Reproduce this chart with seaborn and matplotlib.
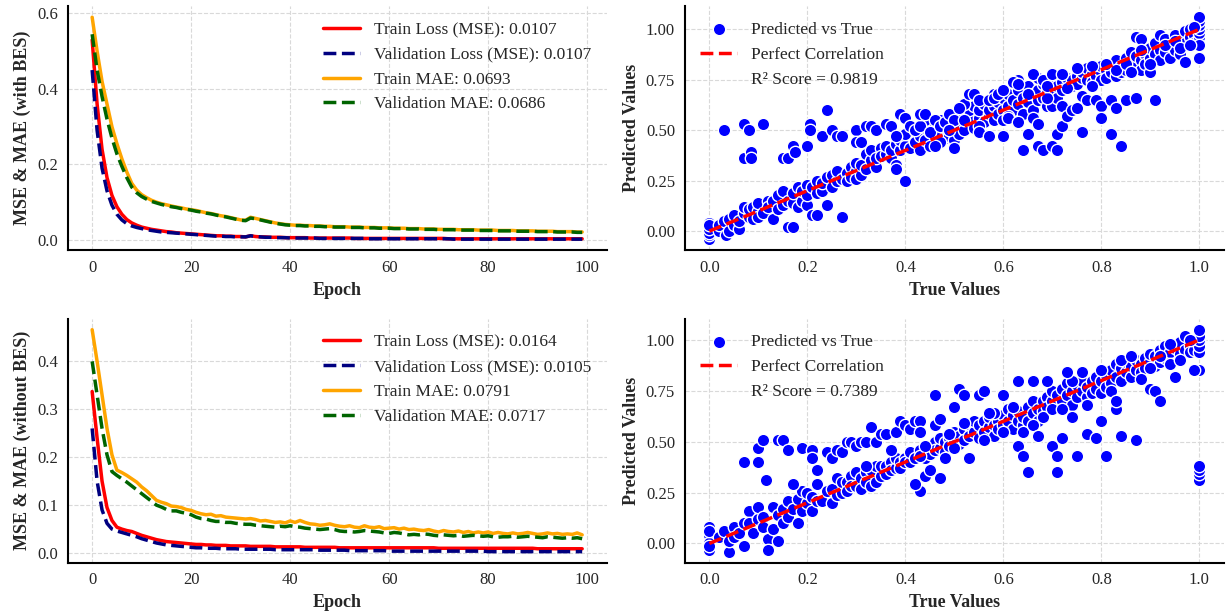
import numpy as np
import matplotlib
matplotlib.use("Agg")
import matplotlib.pyplot as plt
import seaborn as sns

# ---- training history, model with BES ----
train_loss_bes = [
    0.530, 0.360, 0.240, 0.165, 0.118, 0.088, 0.068, 0.054, 0.045, 0.039,
    0.034, 0.031, 0.028, 0.026, 0.024, 0.022, 0.021, 0.019, 0.018, 0.017,
    0.016, 0.015, 0.014, 0.013, 0.012, 0.011, 0.011, 0.010, 0.010, 0.009,
    0.009, 0.008, 0.011, 0.009, 0.008, 0.008, 0.007, 0.007, 0.007, 0.006,
    0.006, 0.006, 0.006, 0.006, 0.005, 0.005, 0.005, 0.005, 0.005, 0.005,
    0.005, 0.005, 0.005, 0.004, 0.004, 0.004, 0.004, 0.004, 0.004, 0.004,
    0.004, 0.004, 0.004, 0.004, 0.004, 0.004, 0.004, 0.004, 0.004, 0.004,
    0.004, 0.004, 0.003, 0.003, 0.003, 0.003, 0.003, 0.003, 0.003, 0.003,
    0.003, 0.003, 0.003, 0.003, 0.003, 0.003, 0.003, 0.003, 0.003, 0.003,
    0.003, 0.003, 0.003, 0.003, 0.003, 0.003, 0.003, 0.003, 0.003, 0.003,
]
val_loss_bes = [
    0.450, 0.290, 0.190, 0.130, 0.092, 0.068, 0.053, 0.043, 0.037, 0.033,
    0.030, 0.027, 0.025, 0.023, 0.021, 0.020, 0.019, 0.018, 0.017, 0.016,
    0.015, 0.014, 0.013, 0.012, 0.011, 0.010, 0.010, 0.009, 0.009, 0.008,
    0.008, 0.008, 0.011, 0.009, 0.008, 0.007, 0.007, 0.006, 0.006, 0.006,
    0.005, 0.005, 0.005, 0.005, 0.005, 0.005, 0.004, 0.004, 0.004, 0.004,
    0.004, 0.004, 0.004, 0.004, 0.004, 0.004, 0.003, 0.003, 0.003, 0.003,
    0.003, 0.003, 0.003, 0.003, 0.003, 0.003, 0.003, 0.003, 0.003, 0.003,
    0.003, 0.003, 0.003, 0.002, 0.002, 0.002, 0.002, 0.002, 0.002, 0.002,
    0.002, 0.002, 0.002, 0.002, 0.002, 0.002, 0.002, 0.002, 0.002, 0.002,
    0.002, 0.002, 0.002, 0.002, 0.002, 0.002, 0.002, 0.002, 0.002, 0.002,
]
train_mae_bes = [
    0.590, 0.500, 0.420, 0.360, 0.300, 0.255, 0.215, 0.180, 0.150, 0.132,
    0.120, 0.112, 0.105, 0.100, 0.096, 0.093, 0.090, 0.087, 0.085, 0.082,
    0.080, 0.078, 0.075, 0.072, 0.070, 0.067, 0.064, 0.062, 0.059, 0.056,
    0.053, 0.052, 0.060, 0.057, 0.054, 0.051, 0.048, 0.045, 0.043, 0.041,
    0.040, 0.039, 0.039, 0.038, 0.038, 0.037, 0.037, 0.036, 0.036, 0.035,
    0.035, 0.035, 0.034, 0.034, 0.034, 0.033, 0.033, 0.033, 0.032, 0.032,
    0.032, 0.031, 0.031, 0.031, 0.030, 0.030, 0.030, 0.029, 0.029, 0.029,
    0.028, 0.028, 0.028, 0.028, 0.027, 0.027, 0.027, 0.027, 0.026, 0.026,
    0.026, 0.026, 0.025, 0.025, 0.025, 0.025, 0.024, 0.024, 0.024, 0.024,
    0.023, 0.023, 0.023, 0.023, 0.022, 0.022, 0.022, 0.022, 0.021, 0.021,
]
val_mae_bes = [
    0.545, 0.450, 0.380, 0.320, 0.270, 0.228, 0.195, 0.165, 0.140, 0.125,
    0.115, 0.108, 0.102, 0.098, 0.094, 0.091, 0.088, 0.086, 0.083, 0.081,
    0.079, 0.076, 0.074, 0.071, 0.069, 0.066, 0.063, 0.061, 0.058, 0.055,
    0.052, 0.051, 0.058, 0.056, 0.053, 0.050, 0.047, 0.044, 0.042, 0.040,
    0.039, 0.038, 0.038, 0.037, 0.037, 0.036, 0.036, 0.035, 0.035, 0.034,
    0.034, 0.034, 0.033, 0.033, 0.033, 0.032, 0.032, 0.032, 0.031, 0.031,
    0.031, 0.030, 0.030, 0.030, 0.029, 0.029, 0.029, 0.028, 0.028, 0.028,
    0.027, 0.027, 0.027, 0.027, 0.026, 0.026, 0.026, 0.026, 0.025, 0.025,
    0.025, 0.025, 0.024, 0.024, 0.024, 0.024, 0.023, 0.023, 0.023, 0.023,
    0.022, 0.022, 0.022, 0.022, 0.021, 0.021, 0.021, 0.021, 0.020, 0.020,
]

# ---- training history, model without BES ----
train_loss_nobes = [
    0.337, 0.240, 0.150, 0.095, 0.068, 0.054, 0.050, 0.047, 0.045, 0.041,
    0.037, 0.034, 0.031, 0.028, 0.026, 0.024, 0.023, 0.022, 0.021, 0.020,
    0.019, 0.018, 0.018, 0.017, 0.017, 0.016, 0.016, 0.016, 0.015, 0.015,
    0.015, 0.015, 0.014, 0.014, 0.014, 0.014, 0.014, 0.013, 0.013, 0.013,
    0.013, 0.013, 0.013, 0.012, 0.012, 0.012, 0.012, 0.012, 0.012, 0.012,
    0.011, 0.011, 0.011, 0.011, 0.011, 0.011, 0.011, 0.011, 0.011, 0.011,
    0.011, 0.011, 0.011, 0.011, 0.011, 0.011, 0.011, 0.011, 0.011, 0.011,
    0.010, 0.010, 0.010, 0.010, 0.010, 0.010, 0.010, 0.010, 0.010, 0.010,
    0.010, 0.010, 0.010, 0.010, 0.010, 0.010, 0.010, 0.010, 0.010, 0.010,
    0.009, 0.009, 0.009, 0.009, 0.009, 0.009, 0.009, 0.009, 0.009, 0.009,
]
val_loss_nobes = [
    0.260, 0.150, 0.090, 0.062, 0.050, 0.046, 0.043, 0.040, 0.037, 0.034,
    0.030, 0.027, 0.024, 0.021, 0.019, 0.017, 0.016, 0.015, 0.014, 0.013,
    0.012, 0.011, 0.011, 0.010, 0.010, 0.010, 0.009, 0.009, 0.009, 0.009,
    0.008, 0.008, 0.008, 0.008, 0.008, 0.008, 0.008, 0.007, 0.007, 0.007,
    0.007, 0.007, 0.007, 0.007, 0.007, 0.007, 0.006, 0.006, 0.006, 0.006,
    0.006, 0.006, 0.005, 0.005, 0.005, 0.005, 0.005, 0.005, 0.005, 0.005,
    0.004, 0.004, 0.004, 0.004, 0.004, 0.004, 0.004, 0.004, 0.004, 0.004,
    0.004, 0.004, 0.004, 0.004, 0.004, 0.004, 0.004, 0.004, 0.004, 0.004,
    0.003, 0.003, 0.003, 0.003, 0.003, 0.003, 0.003, 0.003, 0.003, 0.003,
    0.003, 0.003, 0.003, 0.003, 0.003, 0.003, 0.003, 0.003, 0.003, 0.003,
]
train_mae_nobes = [
    0.466, 0.400, 0.330, 0.260, 0.205, 0.173, 0.168, 0.162, 0.155, 0.148,
    0.138, 0.130, 0.120, 0.110, 0.106, 0.103, 0.098, 0.097, 0.095, 0.091,
    0.089, 0.085, 0.082, 0.080, 0.081, 0.077, 0.078, 0.075, 0.074, 0.073,
    0.072, 0.071, 0.072, 0.070, 0.067, 0.068, 0.066, 0.064, 0.065, 0.063,
    0.067, 0.064, 0.068, 0.064, 0.061, 0.060, 0.058, 0.059, 0.061, 0.058,
    0.056, 0.055, 0.057, 0.054, 0.053, 0.057, 0.054, 0.053, 0.055, 0.051,
    0.052, 0.053, 0.050, 0.052, 0.049, 0.050, 0.048, 0.047, 0.049, 0.046,
    0.044, 0.047, 0.045, 0.044, 0.046, 0.043, 0.045, 0.042, 0.044, 0.042,
    0.044, 0.041, 0.043, 0.041, 0.040, 0.042, 0.040, 0.041, 0.043, 0.041,
    0.039, 0.040, 0.042, 0.040, 0.041, 0.039, 0.040, 0.039, 0.042, 0.038,
]
val_mae_nobes = [
    0.400, 0.330, 0.260, 0.205, 0.170, 0.162, 0.155, 0.148, 0.140, 0.132,
    0.124, 0.116, 0.108, 0.100, 0.096, 0.091, 0.088, 0.088, 0.085, 0.083,
    0.080, 0.075, 0.072, 0.071, 0.068, 0.066, 0.066, 0.064, 0.064, 0.062,
    0.061, 0.060, 0.060, 0.058, 0.057, 0.056, 0.055, 0.054, 0.056, 0.055,
    0.057, 0.055, 0.054, 0.052, 0.051, 0.050, 0.049, 0.050, 0.051, 0.049,
    0.046, 0.045, 0.045, 0.044, 0.045, 0.047, 0.046, 0.045, 0.044, 0.042,
    0.041, 0.043, 0.042, 0.040, 0.038, 0.039, 0.038, 0.040, 0.039, 0.037,
    0.036, 0.038, 0.037, 0.036, 0.037, 0.035, 0.036, 0.037, 0.036, 0.035,
    0.036, 0.034, 0.033, 0.034, 0.034, 0.035, 0.033, 0.034, 0.035, 0.034,
    0.033, 0.032, 0.034, 0.033, 0.032, 0.031, 0.032, 0.031, 0.032, 0.030,
]

bes_labels = ["Train Loss (MSE): 0.0107", "Validation Loss (MSE): 0.0107",
              "Train MAE: 0.0693", "Validation MAE: 0.0686"]
nobes_labels = ["Train Loss (MSE): 0.0164", "Validation Loss (MSE): 0.0105",
                "Train MAE: 0.0791", "Validation MAE: 0.0717"]

# ---- predicted vs true, model with BES (true, predicted) ----
pred_bes = [
    (0, -0.04), (0, -0.02), (0, 0.0), (0, 0.02), (0, 0.04), (0, -0.01), (0, 0.01), (0, 0.03),
    (0.02, 0.0), (0.02, 0.03), (0.03, 0.05), (0.035, -0.02), (0.04, 0.0), (0.04, 0.06),
    (0.05, 0.03), (0.05, 0.08), (0.06, 0.01), (0.06, 0.05), (0.07, 0.09), (0.07, 0.12),
    (0.08, 0.07), (0.08, 0.11), (0.09, 0.06), (0.09, 0.12), (0.1, 0.1), (0.1, 0.14), (0.1, 0.07),
    (0.11, 0.09), (0.12, 0.15), (0.12, 0.12), (0.13, 0.06), (0.13, 0.15), (0.14, 0.11),
    (0.14, 0.18), (0.15, 0.13), (0.15, 0.2), (0.16, 0.15), (0.16, 0.02), (0.17, 0.02),
    (0.17, 0.14), (0.17, 0.19), (0.18, 0.12), (0.18, 0.22), (0.19, 0.15), (0.19, 0.2),
    (0.2, 0.23), (0.2, 0.13), (0.2, 0.18), (0.21, 0.08), (0.21, 0.22), (0.22, 0.08),
    (0.22, 0.19), (0.22, 0.25), (0.23, 0.2), (0.23, 0.24), (0.24, 0.13), (0.24, 0.27),
    (0.25, 0.22), (0.25, 0.28), (0.26, 0.25), (0.26, 0.3), (0.27, 0.07), (0.27, 0.26),
    (0.28, 0.29), (0.28, 0.25), (0.29, 0.32), (0.29, 0.27), (0.3, 0.3), (0.3, 0.26), (0.3, 0.34),
    (0.31, 0.28), (0.31, 0.33), (0.32, 0.31), (0.32, 0.38), (0.33, 0.35), (0.33, 0.4),
    (0.34, 0.32), (0.34, 0.36), (0.35, 0.41), (0.35, 0.37), (0.36, 0.38), (0.36, 0.42),
    (0.37, 0.36), (0.37, 0.4), (0.38, 0.33), (0.38, 0.43), (0.38, 0.31), (0.39, 0.4),
    (0.39, 0.45), (0.4, 0.25), (0.4, 0.42), (0.4, 0.48), (0.41, 0.41), (0.42, 0.5), (0.42, 0.44),
    (0.43, 0.4), (0.43, 0.47), (0.44, 0.51), (0.44, 0.45), (0.45, 0.49), (0.46, 0.44),
    (0.46, 0.52), (0.47, 0.48), (0.47, 0.55), (0.48, 0.46), (0.48, 0.51), (0.49, 0.53),
    (0.49, 0.47), (0.5, 0.5), (0.5, 0.57), (0.5, 0.45), (0.51, 0.52), (0.51, 0.48),
    (0.52, 0.58), (0.52, 0.5), (0.53, 0.55), (0.53, 0.6), (0.54, 0.51), (0.54, 0.62),
    (0.55, 0.56), (0.55, 0.6), (0.56, 0.54), (0.56, 0.63), (0.57, 0.58), (0.57, 0.6),
    (0.58, 0.55), (0.58, 0.62), (0.59, 0.58), (0.59, 0.64), (0.6, 0.6), (0.6, 0.66), (0.6, 0.55),
    (0.61, 0.62), (0.61, 0.68), (0.62, 0.6), (0.62, 0.65), (0.63, 0.7), (0.63, 0.63),
    (0.64, 0.66), (0.64, 0.58), (0.65, 0.72), (0.65, 0.64), (0.66, 0.68), (0.66, 0.6),
    (0.67, 0.7), (0.67, 0.65), (0.68, 0.66), (0.68, 0.73), (0.69, 0.62), (0.69, 0.7),
    (0.7, 0.68), (0.7, 0.75), (0.7, 0.62), (0.71, 0.72), (0.71, 0.66), (0.72, 0.74), (0.72, 0.7),
    (0.73, 0.76), (0.74, 0.72), (0.74, 0.75), (0.75, 0.77), (0.75, 0.73), (0.76, 0.76),
    (0.76, 0.79), (0.77, 0.75), (0.77, 0.81), (0.78, 0.78), (0.78, 0.74), (0.79, 0.8),
    (0.79, 0.77), (0.8, 0.79), (0.8, 0.82), (0.8, 0.75), (0.81, 0.8), (0.81, 0.76),
    (0.82, 0.83), (0.82, 0.79), (0.83, 0.77), (0.83, 0.85), (0.84, 0.82), (0.84, 0.79),
    (0.85, 0.86), (0.85, 0.8), (0.86, 0.84), (0.86, 0.89), (0.87, 0.82), (0.87, 0.87),
    (0.87, 0.96), (0.88, 0.85), (0.88, 0.8), (0.88, 0.95), (0.89, 0.88), (0.89, 0.83),
    (0.9, 0.86), (0.9, 0.91), (0.9, 0.79), (0.91, 0.88), (0.91, 0.93), (0.92, 0.9), (0.92, 0.85),
    (0.92, 0.97), (0.93, 0.95), (0.93, 0.89), (0.94, 0.92), (0.94, 0.86), (0.95, 0.97),
    (0.95, 0.9), (0.96, 0.94), (0.96, 0.88), (0.97, 0.99), (0.97, 0.84), (0.97, 0.93),
    (0.98, 0.96), (0.98, 1.0), (0.99, 0.97), (0.99, 0.93),
    (1.0, 0.94), (1.0, 0.96), (1.0, 0.98), (1.0, 1.0), (1.0, 1.02), (1.0, 1.04), (1.0, 1.06),
    (1.0, 0.92), (1.0, 0.86),
    # denser band in the upper range
    (0.44, 0.55), (0.47, 0.44), (0.52, 0.63), (0.55, 0.52), (0.58, 0.68), (0.61, 0.57),
    (0.63, 0.75), (0.65, 0.68), (0.67, 0.76), (0.69, 0.66), (0.73, 0.71), (0.75, 0.81),
    (0.78, 0.82), (0.81, 0.83), (0.83, 0.8), (0.85, 0.83), (0.86, 0.79), (0.88, 0.9),
    (0.9, 0.83), (0.93, 0.92), (0.95, 0.94), (0.96, 0.91), (0.98, 0.92), (0.99, 1.01),
    # off-diagonal predictions
    (0.03, 0.50), (0.07, 0.53), (0.07, 0.36), (0.08, 0.50), (0.085, 0.39), (0.085, 0.36),
    (0.11, 0.53), (0.15, 0.36), (0.16, 0.36), (0.17, 0.42), (0.175, 0.39), (0.2, 0.42),
    (0.205, 0.53), (0.205, 0.50), (0.23, 0.47), (0.24, 0.60), (0.25, 0.50), (0.26, 0.47),
    (0.27, 0.47), (0.30, 0.50), (0.30, 0.44), (0.31, 0.44), (0.32, 0.52), (0.33, 0.52),
    (0.34, 0.50), (0.36, 0.53), (0.37, 0.52), (0.38, 0.47), (0.39, 0.58), (0.40, 0.56),
    (0.41, 0.52), (0.42, 0.50), (0.43, 0.52), (0.43, 0.58), (0.44, 0.58), (0.45, 0.49),
    (0.46, 0.55), (0.45, 0.42), (0.46, 0.42), (0.47, 0.52), (0.48, 0.54), (0.49, 0.58),
    (0.50, 0.55), (0.50, 0.41), (0.49, 0.50), (0.51, 0.61), (0.52, 0.55), (0.53, 0.68),
    (0.54, 0.68), (0.55, 0.65), (0.55, 0.49), (0.57, 0.47), (0.57, 0.65), (0.58, 0.66),
    (0.59, 0.68), (0.60, 0.70), (0.60, 0.47), (0.61, 0.56), (0.62, 0.74), (0.63, 0.73),
    (0.63, 0.54), (0.64, 0.40), (0.65, 0.48), (0.66, 0.78), (0.66, 0.56), (0.67, 0.42),
    (0.67, 0.53), (0.68, 0.75), (0.68, 0.40), (0.69, 0.72), (0.70, 0.78), (0.70, 0.42),
    (0.71, 0.48), (0.71, 0.40), (0.72, 0.78), (0.72, 0.52), (0.72, 0.62), (0.73, 0.57),
    (0.74, 0.60), (0.75, 0.61), (0.76, 0.49), (0.76, 0.67), (0.77, 0.65), (0.78, 0.72),
    (0.79, 0.65), (0.80, 0.62), (0.80, 0.56), (0.82, 0.65), (0.82, 0.48), (0.83, 0.61),
    (0.84, 0.42), (0.85, 0.65), (0.87, 0.66), (0.91, 0.65),
]

# ---- predicted vs true, model without BES (true, predicted) ----
pred_nobes = [
    (0, -0.03), (0, 0.01), (0, 0.04), (0, 0.08), (0, 0.0), (0, -0.01), (0, 0.06),
    (0.02, 0.03), (0.03, 0.06), (0.04, -0.04), (0.04, 0.01), (0.05, 0.08), (0.05, 0.03),
    (0.06, 0.05), (0.07, -0.01), (0.07, 0.1), (0.08, 0.16), (0.08, 0.1), (0.09, 0.05),
    (0.1, 0.12), (0.1, 0.18), (0.11, 0.13), (0.11, 0.08), (0.12, 0.02), (0.12, -0.03),
    (0.13, 0.07), (0.13, 0.18), (0.14, 0.01), (0.14, 0.14), (0.15, 0.1), (0.15, 0.17),
    (0.16, 0.21), (0.16, 0.13), (0.17, 0.17), (0.18, 0.1), (0.18, 0.22), (0.19, 0.16),
    (0.19, 0.26), (0.2, 0.2), (0.2, 0.25), (0.21, 0.16), (0.21, 0.23), (0.22, 0.29),
    (0.22, 0.21), (0.23, 0.21), (0.24, 0.26), (0.25, 0.2), (0.25, 0.27), (0.26, 0.32),
    (0.26, 0.24), (0.27, 0.25), (0.27, 0.3), (0.28, 0.3), (0.28, 0.26), (0.29, 0.33),
    (0.29, 0.28), (0.3, 0.28), (0.3, 0.35), (0.31, 0.32), (0.31, 0.27), (0.32, 0.35),
    (0.32, 0.3), (0.33, 0.28), (0.33, 0.36), (0.34, 0.3), (0.34, 0.38), (0.35, 0.33),
    (0.35, 0.38), (0.36, 0.38), (0.36, 0.34), (0.37, 0.4), (0.37, 0.36), (0.38, 0.37),
    (0.38, 0.42), (0.39, 0.4), (0.39, 0.37), (0.4, 0.42), (0.4, 0.4), (0.41, 0.4), (0.41, 0.45),
    (0.42, 0.42), (0.43, 0.46), (0.44, 0.42), (0.45, 0.48), (0.45, 0.44), (0.46, 0.5),
    (0.46, 0.46), (0.47, 0.47), (0.47, 0.52), (0.48, 0.5), (0.48, 0.45), (0.49, 0.52),
    (0.49, 0.48), (0.5, 0.5), (0.5, 0.55), (0.51, 0.53), (0.51, 0.49), (0.52, 0.56),
    (0.52, 0.51), (0.53, 0.58), (0.53, 0.53), (0.54, 0.55), (0.54, 0.6), (0.55, 0.52),
    (0.55, 0.58), (0.56, 0.6), (0.56, 0.55), (0.57, 0.57), (0.57, 0.62), (0.58, 0.58),
    (0.58, 0.53), (0.59, 0.6), (0.59, 0.56), (0.6, 0.63), (0.6, 0.58), (0.61, 0.6),
    (0.61, 0.66), (0.62, 0.56), (0.62, 0.63), (0.63, 0.6), (0.63, 0.65), (0.64, 0.58),
    (0.64, 0.62), (0.65, 0.67), (0.65, 0.6), (0.66, 0.64), (0.66, 0.7), (0.67, 0.66),
    (0.67, 0.6), (0.68, 0.7), (0.68, 0.65), (0.69, 0.72), (0.69, 0.67), (0.7, 0.7),
    (0.7, 0.75), (0.71, 0.68), (0.71, 0.73), (0.72, 0.76), (0.72, 0.7), (0.73, 0.73),
    (0.73, 0.79), (0.74, 0.68), (0.74, 0.75), (0.75, 0.78), (0.75, 0.72), (0.76, 0.75),
    (0.76, 0.8), (0.77, 0.72), (0.77, 0.77), (0.78, 0.8), (0.78, 0.74), (0.79, 0.76),
    (0.79, 0.82), (0.8, 0.8), (0.8, 0.74), (0.81, 0.83), (0.81, 0.77), (0.82, 0.85),
    (0.82, 0.79), (0.83, 0.82), (0.83, 0.88), (0.84, 0.8), (0.84, 0.86), (0.85, 0.84),
    (0.85, 0.89), (0.86, 0.82), (0.86, 0.87), (0.87, 0.85), (0.87, 0.9), (0.88, 0.88),
    (0.88, 0.84), (0.89, 0.91), (0.89, 0.86), (0.9, 0.89), (0.9, 0.93), (0.91, 0.87),
    (0.91, 0.92), (0.92, 0.95), (0.92, 0.89), (0.93, 0.91), (0.93, 0.97), (0.94, 0.94),
    (0.94, 0.88), (0.95, 0.96), (0.95, 0.82), (0.96, 0.93), (0.96, 0.99), (0.97, 1.02),
    (0.97, 0.95), (0.98, 0.97), (0.98, 0.94), (0.99, 0.99), (0.99, 0.95),
    (1.0, 0.94), (1.0, 0.97), (1.0, 1.0), (1.0, 1.02), (1.0, 1.05), (1.0, 0.85), (0.99, 0.85),
    # denser band in the upper range
    (0.43, 0.43), (0.5, 0.47), (0.52, 0.59), (0.56, 0.51), (0.58, 0.64), (0.6, 0.55),
    (0.62, 0.67), (0.64, 0.55), (0.66, 0.58), (0.68, 0.62), (0.7, 0.66), (0.72, 0.66),
    (0.74, 0.8), (0.77, 0.68), (0.8, 0.85), (0.82, 0.75), (0.84, 0.9), (0.86, 0.92),
    (0.88, 0.81), (0.9, 0.86), (0.92, 0.92), (0.94, 0.98), (0.96, 0.9), (0.98, 1.0),
    # off-diagonal predictions
    (0.07, 0.40), (0.10, 0.47), (0.10, 0.40), (0.11, 0.51), (0.115, 0.31), (0.14, 0.51),
    (0.15, 0.51), (0.16, 0.46), (0.17, 0.29), (0.19, 0.47), (0.21, 0.46), (0.21, 0.42),
    (0.22, 0.36), (0.24, 0.45), (0.25, 0.42), (0.26, 0.46), (0.27, 0.45), (0.28, 0.50),
    (0.29, 0.50), (0.30, 0.48), (0.31, 0.50), (0.32, 0.38), (0.32, 0.50), (0.33, 0.57),
    (0.34, 0.50), (0.35, 0.54), (0.36, 0.54), (0.37, 0.46), (0.38, 0.55), (0.39, 0.60),
    (0.40, 0.58), (0.41, 0.56), (0.42, 0.60), (0.43, 0.60), (0.43, 0.55), (0.43, 0.26),
    (0.42, 0.29), (0.44, 0.33), (0.44, 0.48), (0.45, 0.36), (0.46, 0.58), (0.46, 0.73),
    (0.47, 0.61), (0.47, 0.32), (0.48, 0.42), (0.49, 0.54), (0.50, 0.67), (0.51, 0.76),
    (0.52, 0.73), (0.53, 0.42), (0.55, 0.73), (0.56, 0.75), (0.57, 0.64), (0.60, 0.73),
    (0.63, 0.80), (0.63, 0.48), (0.64, 0.43), (0.65, 0.35), (0.66, 0.80), (0.67, 0.53),
    (0.69, 0.80), (0.70, 0.48), (0.71, 0.43), (0.71, 0.35), (0.72, 0.52), (0.73, 0.84),
    (0.74, 0.62), (0.75, 0.43), (0.76, 0.84), (0.77, 0.54), (0.79, 0.52), (0.80, 0.60),
    (0.81, 0.43), (0.83, 0.66), (0.83, 0.70), (0.84, 0.53), (0.87, 0.51), (0.90, 0.76),
    (0.91, 0.75), (0.92, 0.70), (1.0, 0.31), (1.0, 0.34), (1.0, 0.36), (1.0, 0.38),
]

r2_bes = 0.9819
r2_nobes = 0.7389

sns.set_style("whitegrid", {"grid.linestyle": "--", "grid.color": "#d9d9d9",
                            "axes.edgecolor": "black"})
plt.rcParams["font.family"] = ["Liberation Serif", "DejaVu Serif"]
plt.rcParams["font.size"] = 12


def draw_history(ax, series, labels, ylabel):
    """
    Plots the loss and MAE curves over the epochs.
    """
    epochs = np.arange(len(series[0]))
    colors = ["red", "navy", "orange", "darkgreen"]
    styles = ["-", "--", "-", "--"]
    for vals, lab, col, ls in zip(series, labels, colors, styles):
        sns.lineplot(x=epochs, y=vals, ax=ax, color=col, lw=2.5,
                     linestyle=ls, label=lab)
    ax.set_xlabel("Epoch", fontsize=13, fontweight="bold")
    ax.set_ylabel(ylabel, fontsize=13, fontweight="bold")
    ax.legend(loc="upper right", frameon=False, fontsize=12.5, handlelength=2.1)


def draw_scatter(ax, points, r2):
    """
    Plots predicted against true values with the identity line.
    """
    true_vals, pred_vals = np.array(points).T
    sns.scatterplot(x=true_vals, y=pred_vals, ax=ax, color="blue",
                    edgecolor="white", linewidth=1, s=80,
                    label="Predicted vs True")
    lims = [true_vals.min(), true_vals.max()]
    sns.lineplot(x=lims, y=lims, ax=ax, color="red", lw=2.5,
                 linestyle="--", label="Perfect Correlation")
    ax.plot([], [], " ", label=f"R\u00b2 Score = {r2:.4f}")
    ax.set_yticks([0.0, 0.25, 0.5, 0.75, 1.0])
    ax.set_yticklabels(["0.00", "0.25", "0.50", "0.75", "1.00"])
    ax.set_xlabel("True Values", fontsize=13, fontweight="bold")
    ax.set_ylabel("Predicted Values", fontsize=13, fontweight="bold")
    ax.legend(loc="upper left", frameon=False, fontsize=12.5, handlelength=2.1)


fig, axes = plt.subplots(2, 2, figsize=(12.3, 6.15), dpi=100)

draw_history(axes[0, 0],
             [train_loss_bes, val_loss_bes, train_mae_bes, val_mae_bes],
             bes_labels, "MSE & MAE (with BES)")
draw_scatter(axes[0, 1], pred_bes, r2_bes)

draw_history(axes[1, 0],
             [train_loss_nobes, val_loss_nobes, train_mae_nobes, val_mae_nobes],
             nobes_labels, "MSE & MAE (without BES)")
draw_scatter(axes[1, 1], pred_nobes, r2_nobes)

axes[0, 0].set_yticks([0.0, 0.2, 0.4, 0.6])
axes[1, 0].set_yticks([0.0, 0.1, 0.2, 0.3, 0.4])

for ax in axes.flat:
    sns.despine(ax=ax)
    ax.spines["left"].set_linewidth(1.5)
    ax.spines["bottom"].set_linewidth(1.5)
    ax.tick_params(labelsize=12)

fig.subplots_adjust(left=0.055, right=0.995, top=0.99, bottom=0.085,
                    wspace=0.145, hspace=0.28)
plt.savefig("out.png")
